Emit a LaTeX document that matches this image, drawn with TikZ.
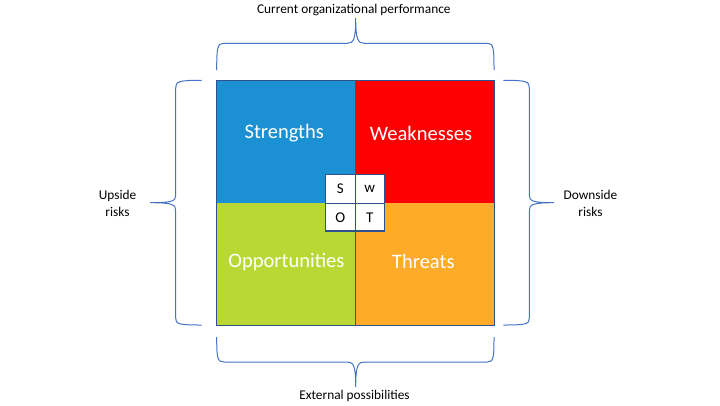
\documentclass[tikz,border=0pt]{standalone}
\usepackage{fontspec}
\setmainfont{Carlito}
\usepackage{xcolor}
\definecolor{swotblue}{RGB}{27,145,211}
\definecolor{swotred}{RGB}{255,0,0}
\definecolor{swotgreen}{RGB}{185,216,52}
\definecolor{swotorange}{RGB}{253,171,40}
\definecolor{framecol}{RGB}{47,82,143}
\definecolor{bracecol}{RGB}{68,114,196}

\begin{document}
\begin{tikzpicture}[x=0.75pt,y=0.75pt,yscale=-1,xscale=1,
    quadtext/.style={text=white,font=\fontsize{15.4}{18}\selectfont,inner sep=0.75pt},
    lettertext/.style={font=\fontsize{11.2}{13}\selectfont,inner sep=0.75pt},
    sidetext/.style={font=\fontsize{10}{12.4}\selectfont,align=center,inner sep=0.75pt},
    bracket/.style={color=bracecol,line width=0.75}]
\useasboundingbox (0,0) rectangle (720,405);

%Shape: Rectangle [quadrants]
\fill [swotblue] (216,80) rectangle (355.5,203.3) ;
\fill [swotred] (355.5,80) rectangle (494,203.3) ;
\fill [swotgreen] (216,203.3) rectangle (355.5,325) ;
\fill [swotorange] (355.5,203.3) rectangle (494,325) ;
\draw [framecol, line width=0.75] (216,80) rectangle (494,325) ;
\draw [framecol, line width=0.75] (355.5,80) -- (355.5,325) ;

%Shape: Rectangle [small letter boxes]
\draw [framecol, fill=white, line width=1.1] (325.3,174.3) rectangle (384.3,231) ;
\draw [framecol, line width=1.1] (355.3,174.3) -- (355.3,231) ;
\draw [framecol, line width=1.1] (325.3,203.3) -- (384.3,203.3) ;

%Curve Lines [top brace]
\draw [bracket] (216.7,70) .. controls (216.7,47) and (217.5,43.3) .. (224,43.3) -- (347,43.3) .. controls (353.5,43.3) and (355.7,40) .. (355.7,18) .. controls (355.7,40) and (358,43.3) .. (364.5,43.3) -- (487,43.3) .. controls (493.5,43.3) and (494,47) .. (494,70) ;
%Curve Lines [bottom brace]
\draw [bracket] (216.7,337) .. controls (216.7,358.5) and (217.5,362) .. (224,362) -- (347,362) .. controls (353.5,362) and (355.7,365) .. (355.7,387) .. controls (355.7,365) and (358,362) .. (364.5,362) -- (487,362) .. controls (493.5,362) and (494,358.5) .. (494,337) ;
%Curve Lines [left brace]
\draw [bracket] (201.7,80.3) .. controls (178,80.3) and (175.7,81.5) .. (175.7,88) -- (175.7,195) .. controls (175.7,201) and (173,202.7) .. (150,202.7) .. controls (173,202.7) and (175.7,204.5) .. (175.7,211) -- (175.7,318) .. controls (175.7,324) and (178,325) .. (201.7,325) ;
%Curve Lines [right brace]
\draw [bracket] (503.3,80.3) .. controls (527,80.3) and (529.3,81.5) .. (529.3,88) -- (529.3,195) .. controls (529.3,201) and (532,202.7) .. (554,202.7) .. controls (532,202.7) and (529.3,204.5) .. (529.3,211) -- (529.3,318) .. controls (529.3,324) and (527,325) .. (503.3,325) ;

% Text Node
\node [quadtext] (strengths) at (284.3,133) {Strengths};
% Text Node
\node [quadtext] (weaknesses) at (421,133) {Weaknesses};
% Text Node
\node [quadtext] (opportunities) at (286.5,261.7) {Opportunities};
% Text Node
\node [quadtext] (threats) at (423.3,261.7) {Threats};
% Text Node
\node [lettertext] (letterS) at (340.3,188.8) {S};
% Text Node
\node [lettertext] (letterW) at (369.8,188.8) {w};
% Text Node
\node [lettertext] (letterO) at (340.3,217.2) {O};
% Text Node
\node [lettertext] (letterT) at (369.8,217.2) {T};
% Text Node
\node [sidetext] (current) at (353.8,10.5) {Current organizational performance};
% Text Node
\node [sidetext] (external) at (354.5,395.5) {External possibilities};
% Text Node
\node [sidetext] (upside) at (117.5,203.3) {Upside\\risks};
% Text Node
\node [sidetext] (downside) at (590.5,203.3) {Downside\\risks};

\end{tikzpicture}
\end{document}
